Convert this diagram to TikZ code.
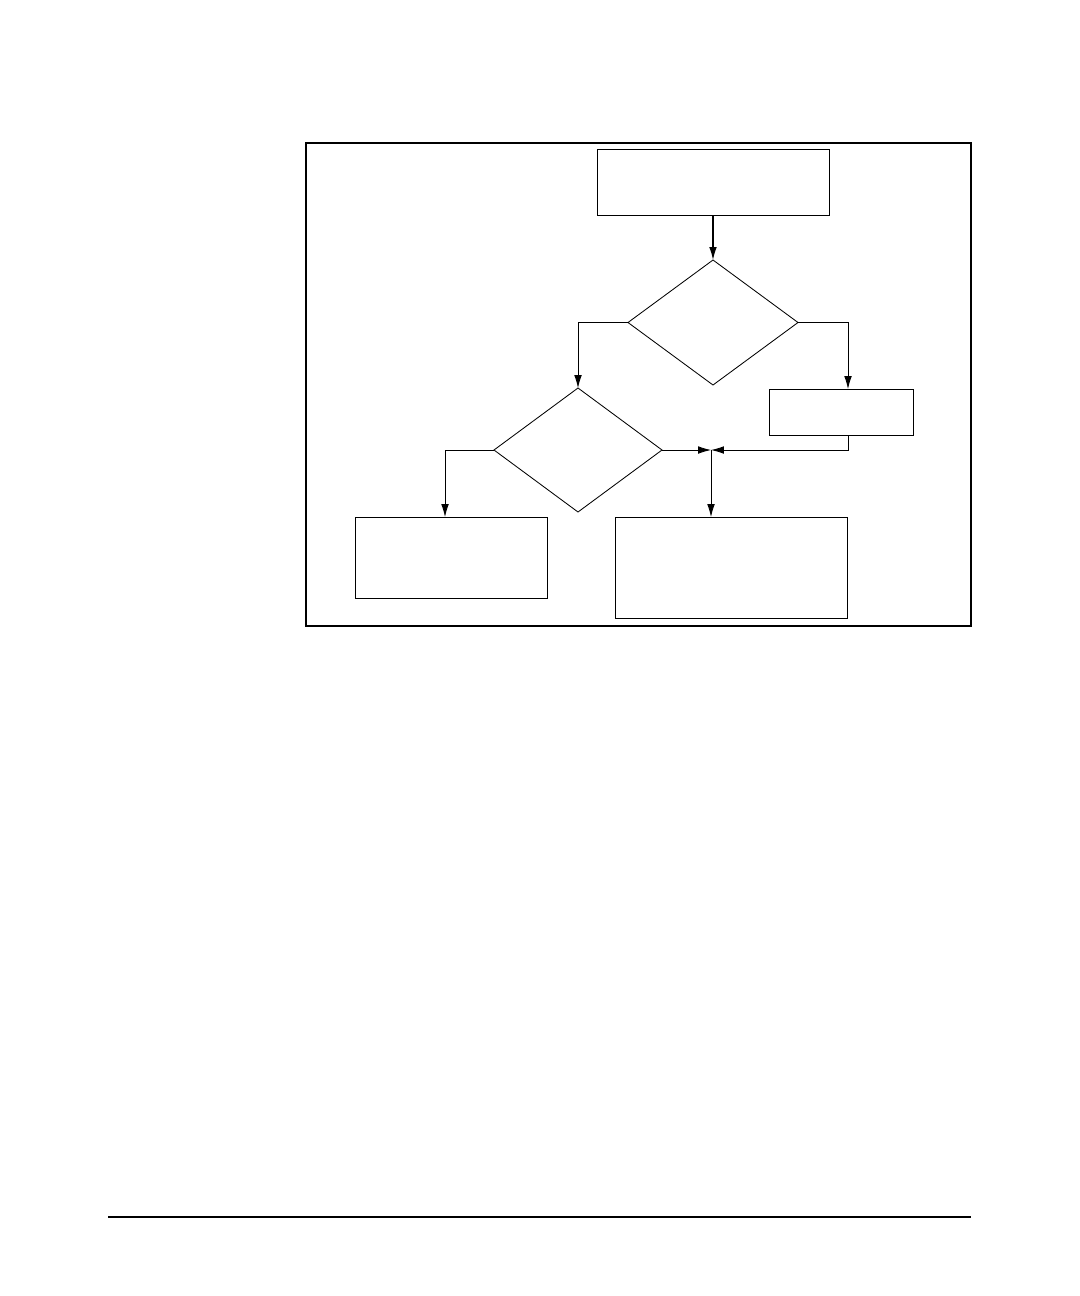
\documentclass[tikz,border=0pt]{standalone}
\usetikzlibrary{shapes.geometric,arrows.meta,positioning}

\begin{document}
\begin{tikzpicture}[x=0.25mm,y=-0.25mm,line width=0.6pt,
    >={Latex[length=3.2mm,width=1.9mm]},
    box/.style={draw,rectangle,inner sep=0pt,outer sep=0pt},
    test/.style={draw,diamond,inner sep=0pt,outer sep=0pt,
      minimum width=42.5mm,minimum height=31.25mm}]
    \useasboundingbox (0,0) rectangle (1080,1296);
    \draw[line width=1.3pt] (306,143) rectangle (971,626);
    \node[box,minimum width=58mm,minimum height=16.5mm] (start) at (713,182) {};
    \node[test] (q_1) at (713,322.5) {};
    \node[test,minimum width=42mm,minimum height=31mm] (q_2) at (578,450) {};
    \node[box,minimum width=36mm,minimum height=11.5mm] (yes_1) at (841,412) {};
    \node[box,minimum width=48mm,minimum height=20.25mm] (no_2) at (451,557.5) {};
    \node[box,minimum width=58mm,minimum height=25.25mm] (done) at (731,567.5) {};
    \coordinate (yes_in) at (848,389);
    \coordinate (yes_out) at (848,435);
    \coordinate (no_in) at (445,517);
    \coordinate (join) at (711,450);
    \draw[->,line width=0.9pt] (start.south) -- (q_1.north);
    \draw[->] (q_1.west) -| (q_2.north);
    \draw[->] (q_1.east) -| (yes_in);
    \draw[->] (yes_out) |- (join);
    \draw[->] (q_2.east) -- (join);
    \draw[->] (join) -- (join |- done.north);
    \draw[->] (q_2.west) -| (no_in);
    % footer rule
    \draw[line width=1pt] (108,1217) -- (971,1217);
\end{tikzpicture}
\end{document}
